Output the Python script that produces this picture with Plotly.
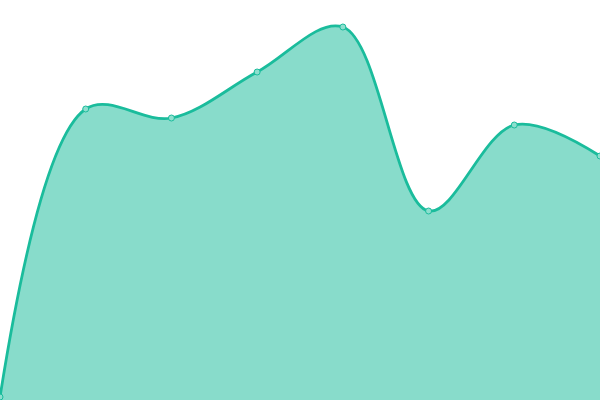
import plotly.graph_objects as go

categories = [0, 1, 2, 3, 4, 5, 6, 7]
values = [3, 291, 282, 328, 373, 189, 275, 244]

fig = go.Figure()
fig.add_trace(go.Scatter(
    x=categories, y=values,
    mode="lines+markers",
    line=dict(color="#1abc9c", width=2.8, shape="spline", smoothing=1.0),
    fill="tozeroy",
    fillcolor="rgba(26,188,156,0.52)",
    marker=dict(size=6, color="#8ddfce", line=dict(color="#1abc9c", width=1)),
    hoverinfo="skip",
))
fig.update_layout(
    width=600, height=400,
    margin=dict(l=0, r=0, t=0, b=0),
    paper_bgcolor="white", plot_bgcolor="white",
    showlegend=False,
    xaxis=dict(range=[0, 7], visible=False, fixedrange=True),
    yaxis=dict(range=[0, 400], visible=False, fixedrange=True),
)
fig.write_html("out.html", config={"displayModeBar": False},
               post_script="document.body.style.margin='0';document.body.style.overflow='hidden';")
